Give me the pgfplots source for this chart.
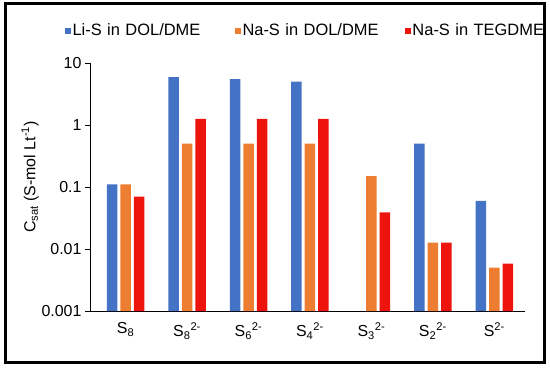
\documentclass[border=0pt]{standalone}
\usepackage{pgfplots}
\pgfplotsset{compat=1.18}
\usepackage{fontspec}
\setmainfont{Liberation Sans}
\definecolor{cblue}{HTML}{4472C4}
\definecolor{corange}{HTML}{ED7D31}
\definecolor{cred}{HTML}{EC140C}
\begin{document}
\begin{tikzpicture}
\useasboundingbox (0bp,0bp) rectangle (550bp,368bp);
\draw[line width=3bp] (5bp,5.5bp) rectangle (544.5bp,364.5bp);
\begin{axis}[
  at={(90bp,57bp)}, anchor=south west,
  scale only axis, width=435bp, height=248bp,
  ymode=log, ymin=0.001, ymax=10, log origin=infty,
  xmin=-0.58, xmax=6.5,
  axis lines*=left,
  axis line style={black, line width=0.8bp},
  ytick={0.001,0.01,0.1,1,10},
  yticklabels={0.001,0.01,0.1,1,10},
  yminorticks=false,
  xtick={0,1,2,3,4,5,6},
  xticklabels={S\textsubscript{8},S\textsubscript{8}\textsuperscript{2-},S\textsubscript{6}\textsuperscript{2-},S\textsubscript{4}\textsuperscript{2-},S\textsubscript{3}\textsuperscript{2-},S\textsubscript{2}\textsuperscript{2-},S\textsuperscript{2-}},
  xticklabel style={yshift=-3bp},
  x tick style={draw=none},
  y tick style={black, line width=0.8bp},
  tick align=outside,
  major tick length=5bp,
  tick label style={font=\fontsize{16}{19}\selectfont},
  ylabel={C\textsubscript{sat} (S-mol Lt\textsuperscript{-1})},
  ylabel style={font=\fontsize{16}{19}\selectfont, at={(axis description cs:-0.138,0.54)}, anchor=center, rotate=0},
  ybar=3bp, bar width=10.5bp,
  legend columns=3,
  legend cell align=left,
  legend image code/.code={\fill[#1] (0bp,-3bp) rectangle (6bp,3bp);},
  legend style={draw=none, fill=none, inner sep=0pt,
    at={(axis description cs:-0.059,1.13)}, anchor=west,
    font=\fontsize{16.5}{19}\selectfont,
    /tikz/every even column/.append style={text width=160bp, font=\fontsize{16.5}{19}\selectfont}},
]
\addplot[fill=cblue, draw=none] coordinates {(0,0.11) (1,5.9) (2,5.5) (3,5.0) (5,0.5) (6,0.06)};
\addplot[fill=corange, draw=none] coordinates {(0,0.11) (1,0.5) (2,0.5) (3,0.5) (4,0.15) (5,0.0127) (6,0.005)};
\addplot[fill=cred, draw=none] coordinates {(0,0.07) (1,1.25) (2,1.25) (3,1.25) (4,0.039) (5,0.0127) (6,0.0058)};
\legend{Li-S in DOL/DME, Na-S in DOL/DME, Na-S in TEGDME}
\end{axis}
\end{tikzpicture}
\end{document}
